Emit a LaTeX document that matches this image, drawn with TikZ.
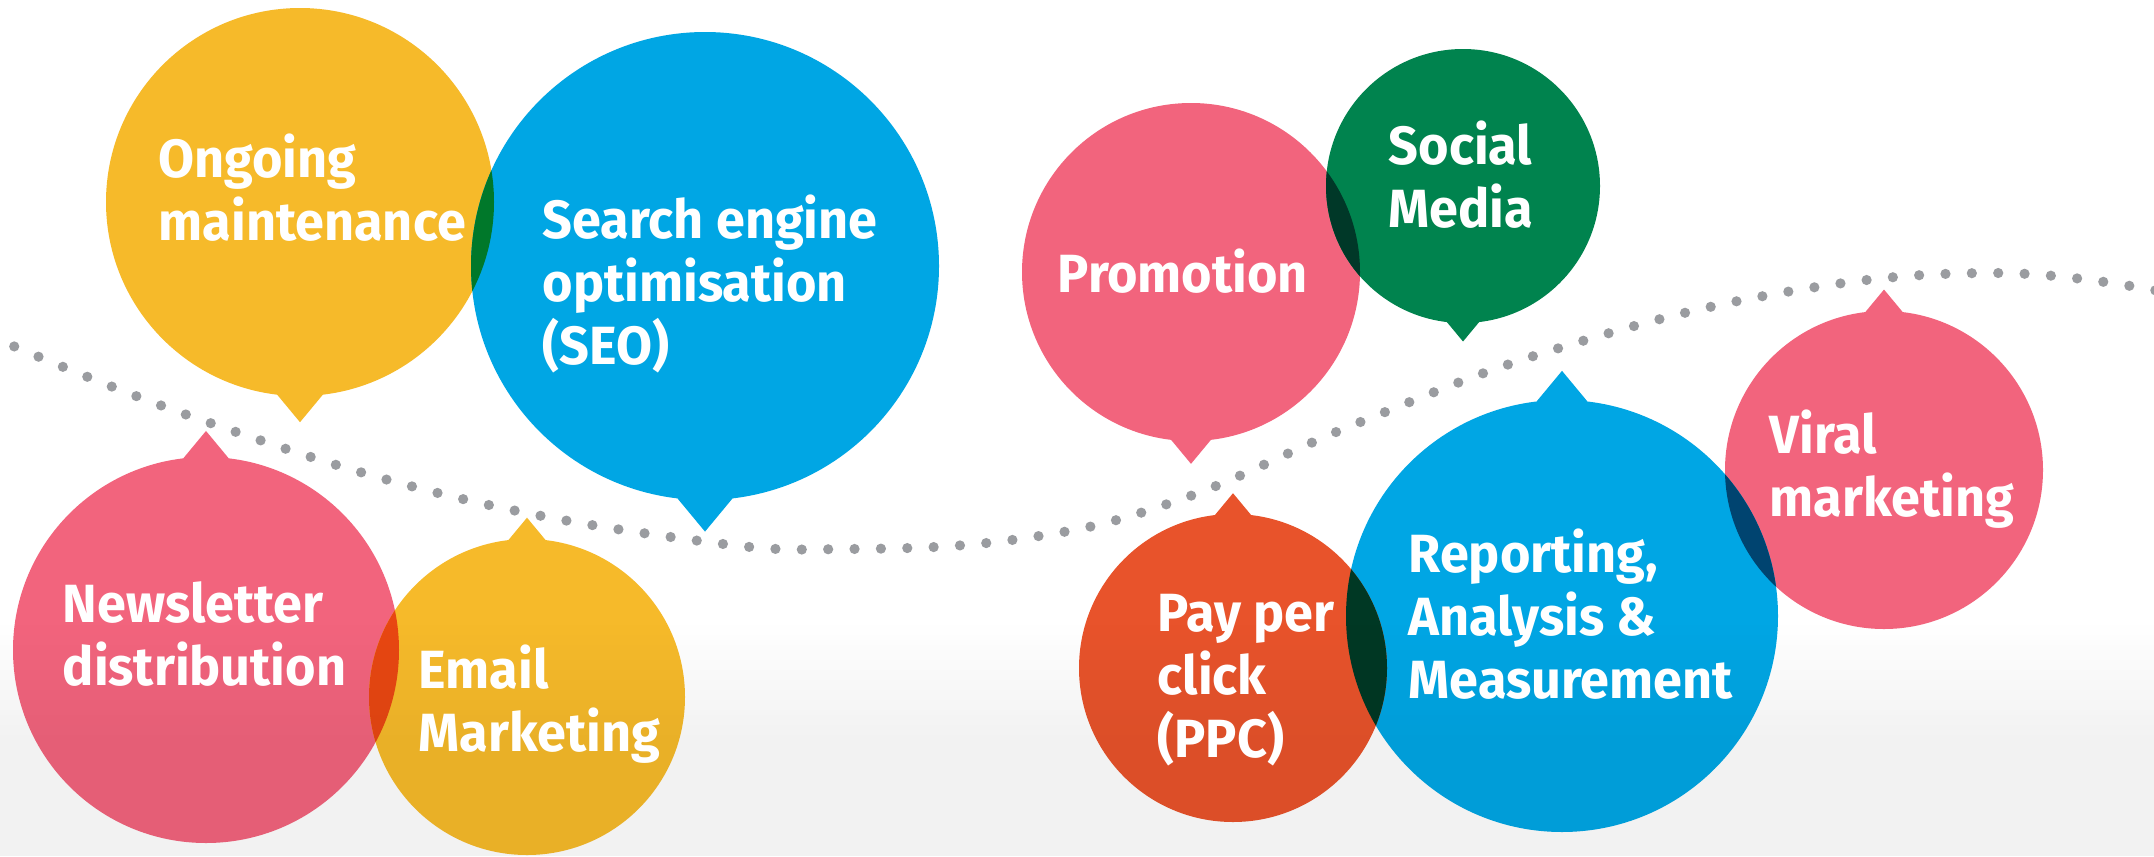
\documentclass[tikz,border=0pt]{standalone}
\usepackage{fontspec}
\newfontfamily\bubblefont{Fira Sans}[FakeStretch=0.97]

\definecolor{pinkc}{HTML}{F2647D}
\definecolor{yellowc}{HTML}{F6BA2A}
\definecolor{bluec}{HTML}{00A6E4}
\definecolor{greenc}{HTML}{00834E}
\definecolor{orangec}{HTML}{E8532B}
\definecolor{dotc}{HTML}{9A9CA0}
\definecolor{ovyb}{HTML}{00782A}
\definecolor{ovpy}{HTML}{E84712}
\definecolor{ovpg}{HTML}{003828}
\definecolor{ovob}{HTML}{003824}
\definecolor{ovbp}{HTML}{004470}

% circle with a pointed tip: centre, radius, tip angle, colour
\newcommand{\bubble}[4]{%
  \fill[#4] (#1) circle (#2)
    ([shift={(#1)}]#3-8.6:{0.971*#2}) -- ([shift={(#1)}]#3:{1.135*#2})
    -- ([shift={(#1)}]#3+8.6:{0.971*#2}) -- cycle;}
% darker lens where two circles meet
\newcommand{\overlap}[5]{%
  \begin{scope}
    \clip (#1) circle (#2);
    \fill[#5] (#3) circle (#4);
  \end{scope}}

\tikzset{
  bubbletext/.style={anchor=base west, align=left, inner sep=0pt, text=white,
    font=\bubblefont\bfseries\fontsize{15.3}{17.8}\selectfont},
  dotline/.style={dotc, line width=2.9pt, line cap=round, dash pattern=on 0pt off 7.5pt}
}

\begin{document}
\begin{tikzpicture}[x=0.01cm, y=0.01cm]
	\useasboundingbox (0,0) rectangle (2154,856);
	\fill[white] (0,0) rectangle (2154,856);
	
	\draw[dotline] plot[smooth, tension=0.7] coordinates {(-10,520) (193,439) (446,361) (700,315) (850,307) (1026,318) (1179,356) (1358,433) (1556,507) (1786,564) (1997,583) (2164,564)};
	
	\coordinate (maint) at (300,654);
	\coordinate (seo) at (705,590);
	\coordinate (news) at (206,206);
	\coordinate (email) at (527,159);
	\coordinate (promo) at (1191,584);
	\coordinate (social) at (1463,670);
	\coordinate (viral) at (1884,386);
	\coordinate (report) at (1562,240);
	\coordinate (ppc) at (1233,188);
	
	\bubble{maint}{194}{-90}{yellowc}
	\bubble{seo}{234}{-90}{bluec}
	\bubble{news}{193}{90}{pinkc}
	\bubble{email}{158}{90}{yellowc}
	\bubble{promo}{169}{-90}{pinkc}
	\bubble{social}{137}{-90}{greenc}
	\bubble{viral}{159}{90}{pinkc}
	\bubble{report}{216}{90}{bluec}
	\bubble{ppc}{154}{90}{orangec}
	
	\overlap{maint}{194}{seo}{234}{ovyb}
	\overlap{news}{193}{email}{158}{ovpy}
	\overlap{promo}{169}{social}{137}{ovpg}
	\overlap{ppc}{154}{report}{216}{ovob}
	\overlap{report}{216}{viral}{159}{ovbp}
	
	% grey fade towards the bottom
	\foreach \i [evaluate=\i as \op using 0.051*(\i+0.5)/24] in {0,...,23}
		\fill[black, opacity=\op] (0,{236-5*(\i+1)}) rectangle (2154,{236-5*\i});
	\fill[black, opacity=0.051] (0,0) rectangle (2154,116);
	
	% labels sit on the baseline of their last line
	\node[bubbletext] (maintlabel) at (158,616) {Ongoing\\maintenance};
	\node[bubbletext] (seolabel) at (542,492) {Search engine\\optimisation\\(SEO)};
	\node[bubbletext] (newslabel) at (62,171) {Newsletter\\distribution};
	\node[bubbletext] (emaillabel) at (418,105) {Email\\Marketing};
	\node[bubbletext] (promolabel) at (1057,564) {Promotion};
	\node[bubbletext] (sociallabel) at (1388,629) {Social\\Media};
	\node[bubbletext] (virallabel) at (1769,340) {Viral\\marketing};
	\node[bubbletext] (ppclabel) at (1157,99) {Pay per\\click\\(PPC)};
	\node[bubbletext] (reportlabel) at (1408,158) {Reporting,\\Analysis \&\\Measurement};
\end{tikzpicture}
\end{document}
